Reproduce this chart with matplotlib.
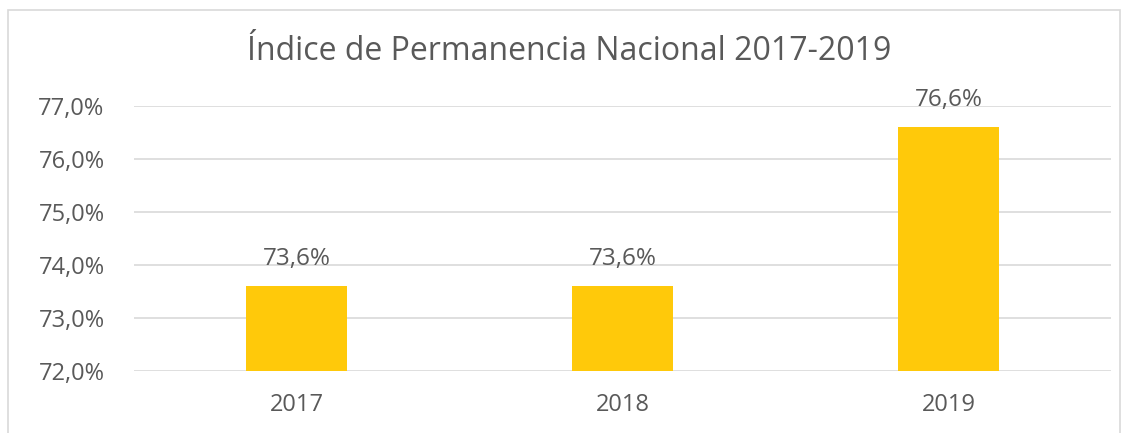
import matplotlib
matplotlib.use("Agg")
import matplotlib.pyplot as plt
from matplotlib.patches import Rectangle
from matplotlib.ticker import FuncFormatter, MultipleLocator

years = ["2017", "2018", "2019"]
indice = [73.6, 73.6, 76.6]
y_min, y_max = 72.0, 77.0

GOLD = "#FFC90A"
TXT = "#595959"
GRID = "#D9D9D9"

plt.rcParams["font.family"] = ["Open Sans", "DejaVu Sans"]

fig = plt.figure(figsize=(11.33, 4.33), dpi=100)
ax = fig.add_axes([0.118, 0.143, 0.863, 0.612])

x = range(len(years))
bars = ax.bar(x, [v - y_min for v in indice], bottom=y_min, width=0.31,
              color=GOLD, zorder=2)
for xi, v in zip(x, indice):
    ax.text(xi, v + 0.28, f"{v:.1f}%".replace(".", ","), ha="center", va="bottom",
            fontsize=17.5, color=TXT)

ax.set_xlim(-0.5, len(years) - 0.5)
ax.set_ylim(y_min, y_max)
ax.yaxis.set_major_locator(MultipleLocator(1))
ax.yaxis.set_major_formatter(FuncFormatter(lambda v, _: f"{v:.1f}%".replace(".", ",")))
ax.set_xticks(list(x))
ax.set_xticklabels(years)
ax.tick_params(axis="both", length=0, labelsize=17, labelcolor=TXT)
ax.tick_params(axis="y", pad=21)
ax.tick_params(axis="x", pad=16)
ax.grid(axis="y", color=GRID, linewidth=1.2, zorder=0)
for s in ax.spines.values():
    s.set_visible(False)

fig.text(0.502, 0.882, "Índice de Permanencia Nacional 2017-2019", ha="center",
         va="center", fontsize=23, color=TXT)

# chart frame
fig.patches.append(Rectangle((8 / 1133, -0.01), 1112 / 1133, 1 - 10 / 433 + 0.01,
                             transform=fig.transFigure, fill=False,
                             edgecolor="#D9D9D9", linewidth=1.2))

fig.savefig("out.png", dpi=100)
